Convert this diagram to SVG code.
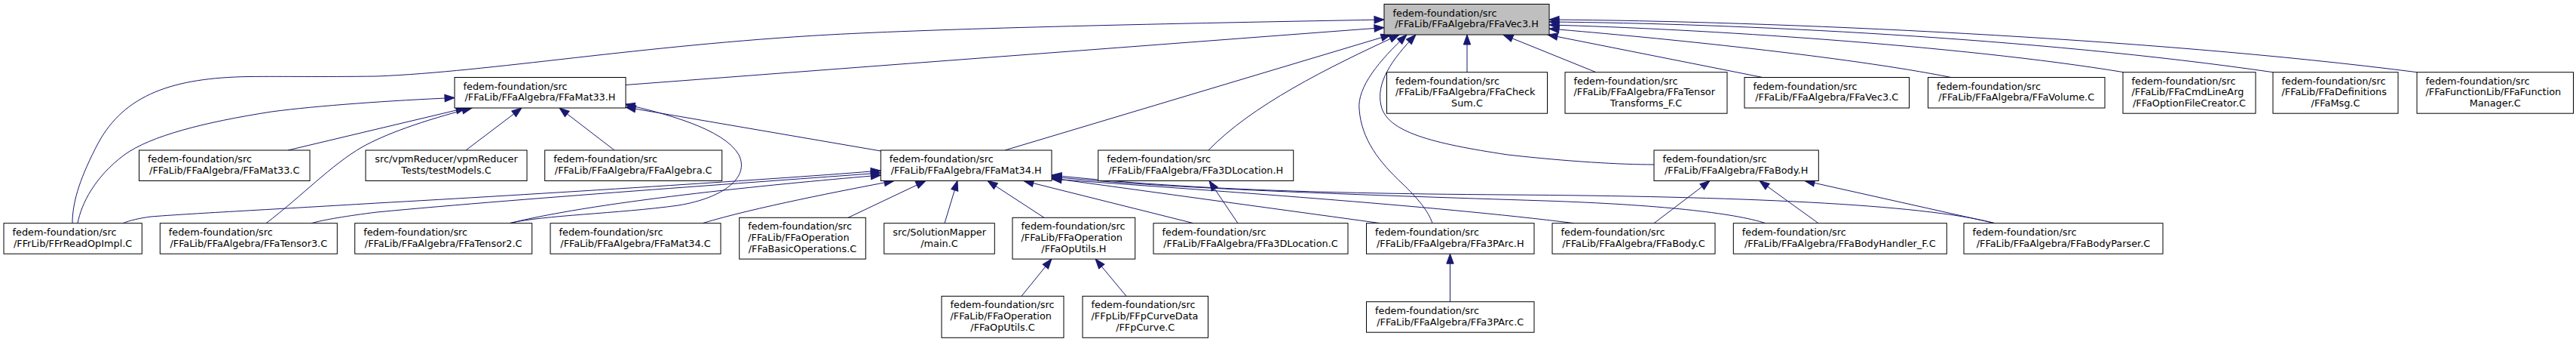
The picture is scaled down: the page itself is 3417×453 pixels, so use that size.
<svg xmlns="http://www.w3.org/2000/svg" width="3417" height="453" viewBox="0 0 3417 453">
<style>
.node rect{fill:#fff;stroke:#000;stroke-width:1}
.node text{font-family:"DejaVu Sans","Liberation Sans",sans-serif;font-size:12.85px;fill:#000}
.node text.m{text-anchor:middle}
#root rect{fill:#bfbfbf}
.edges path{fill:none;stroke:#191970;stroke-width:1;marker-start:url(#arr)}
</style>
<defs>
<marker id="arr" markerUnits="userSpaceOnUse" markerWidth="16" markerHeight="14" viewBox="-1 -7 16 14" refX="13" refY="0" orient="auto-start-reverse" overflow="visible">
<path d="M0,-4.7 L13,0 L0,4.7 Z" fill="#191970" stroke="#191970" stroke-width="1"/>
</marker>
</defs>
<rect x="0" y="0" width="3417" height="453" fill="#fff"/>
<g class="edges" id="edges">
<path d="M1836,36.5 L830,112.5"/>
<path d="M1836,26 C1500,32 1250,38 1100,46 C850,60 650,95 500,101 C420,102 380,101 330,101.5 C230,103 165,125 130,190 C108,232 96,265 96,295.7"/>
<path d="M1845,46 L1333,199"/>
<path d="M1856,46 C1760,90 1660,140 1603,199"/>
<path d="M1866,46 C1830,80 1800,115 1803,145 C1806,185 1830,215 1860,243 C1880,262 1895,280 1900,295.7"/>
<path d="M1878,46 C1845,80 1825,110 1832,140 C1840,175 1900,190 2000,205 C2080,214 2150,218 2194,218"/>
<path d="M1946,46 L1946,95.7"/>
<path d="M1994,46 L2117,95.7"/>
<path d="M2053,46 L2338,102.5"/>
<path d="M2055,38 C2200,50 2450,75 2588,102.5"/>
<path d="M2055,33 C2250,38 2600,60 2817,95.7"/>
<path d="M2055,29 C2300,31 2700,50 3015,95.7"/>
<path d="M2055,26 C2350,28 2850,50 3206,95.7"/>
<path d="M603,129.5 C520,133 420,140 360,148 C270,162 200,180 165,205 C125,235 108,270 103,295.7"/>
<path d="M618,143 L382,199"/>
<path d="M626,143 C560,160 510,178 480,195 C440,218 400,260 353,295.7"/>
<path d="M692,143 L618,199"/>
<path d="M742,143 L815,199"/>
<path d="M829,138 C880,150 960,170 980,205 C995,235 960,262 900,272 C820,283 720,285 676,295.7"/>
<path d="M830,142 L1168.3,200"/>
<path d="M1168.3,226 C1050,236 700,258 500,269 C350,278 250,283 200,287 C185,289 172,292 163,295.7"/>
<path d="M1168.3,229 C1050,238 700,262 500,281 C460,286 430,291 413,295.7"/>
<path d="M1168.3,232 C1050,242 800,265 676,295.7"/>
<path d="M1186,239.5 C1120,252 1000,275 932,295.7"/>
<path d="M1228,239.5 L1125,288.3"/>
<path d="M1270,239.5 L1253,295.7"/>
<path d="M1310,239.5 L1385,288.3"/>
<path d="M1358,239.5 L1583,295.7"/>
<path d="M1395,236 L1831,295.7"/>
<path d="M1395,237 C1600,252 1900,272 2088,295.7"/>
<path d="M1395,234 C1550,250 1800,258 2050,266 C2200,271 2300,282 2342,295.7"/>
<path d="M1395,232 C1550,248 1700,256 2000,258 C2300,260 2550,270 2646,295.7"/>
<path d="M1604,239.5 L1642,295.7"/>
<path d="M1395,343 L1355,392.3"/>
<path d="M1453,343 L1494,392.3"/>
<path d="M1923.5,336.2 L1923.5,399.7"/>
<path d="M2268,239.5 L2194,295.7"/>
<path d="M2334,239.5 L2412,295.7"/>
<path d="M2394,239.5 L2646,295.7"/>
</g>
<g class="node" id="root"><rect x="1836" y="5.5" width="219" height="40.5"/><text x="1847.5" y="21.5">fedem-foundation/src</text><text class="m" x="1945.5" y="36.3">/FFaLib/FFaAlgebra/FFaVec3.H</text></g>
<g class="node" id="n_mat33h"><rect x="603" y="102.5" width="227" height="40.5"/><text x="614.5" y="118.5">fedem-foundation/src</text><text class="m" x="716.5" y="133.3">/FFaLib/FFaAlgebra/FFaMat33.H</text></g>
<g class="node" id="n_checksum"><rect x="1839.5" y="95.7" width="213" height="54.5"/><text x="1851" y="111.5">fedem-foundation/src</text><text x="1851" y="126.3">/FFaLib/FFaAlgebra/FFaCheck</text><text class="m" x="1946" y="141.1">Sum.C</text></g>
<g class="node" id="n_tensortr"><rect x="2076" y="95.7" width="215" height="54.5"/><text x="2087.5" y="111.5">fedem-foundation/src</text><text x="2087.5" y="126.3">/FFaLib/FFaAlgebra/FFaTensor</text><text class="m" x="2183.5" y="141.1">Transforms_F.C</text></g>
<g class="node" id="n_vec3c"><rect x="2314" y="102.5" width="218.5" height="40.5"/><text x="2325.5" y="118.5">fedem-foundation/src</text><text class="m" x="2423.25" y="133.3">/FFaLib/FFaAlgebra/FFaVec3.C</text></g>
<g class="node" id="n_volume"><rect x="2557.5" y="102.5" width="234.5" height="40.5"/><text x="2569" y="118.5">fedem-foundation/src</text><text class="m" x="2674.75" y="133.3">/FFaLib/FFaAlgebra/FFaVolume.C</text></g>
<g class="node" id="n_optfile"><rect x="2816" y="95.7" width="176" height="54.5"/><text x="2827.5" y="111.5">fedem-foundation/src</text><text x="2827.5" y="126.3">/FFaLib/FFaCmdLineArg</text><text class="m" x="2904" y="141.1">/FFaOptionFileCreator.C</text></g>
<g class="node" id="n_msg"><rect x="3015" y="95.7" width="166" height="54.5"/><text x="3026.5" y="111.5">fedem-foundation/src</text><text x="3026.5" y="126.3">/FFaLib/FFaDefinitions</text><text class="m" x="3098" y="141.1">/FFaMsg.C</text></g>
<g class="node" id="n_funcmgr"><rect x="3206" y="95.7" width="207.5" height="54.5"/><text x="3217.5" y="111.5">fedem-foundation/src</text><text x="3217.5" y="126.3">/FFaFunctionLib/FFaFunction</text><text class="m" x="3309.75" y="141.1">Manager.C</text></g>
<g class="node" id="n_mat33c"><rect x="184.5" y="199" width="226.5" height="40.5"/><text x="196" y="215">fedem-foundation/src</text><text class="m" x="297.75" y="229.8">/FFaLib/FFaAlgebra/FFaMat33.C</text></g>
<g class="node" id="n_testmodels"><rect x="485" y="199" width="214" height="40.5"/><text class="m" x="592" y="215">src/vpmReducer/vpmReducer</text><text class="m" x="592" y="229.8">Tests/testModels.C</text></g>
<g class="node" id="n_algebra"><rect x="722.7" y="199" width="235" height="40.5"/><text x="734.2" y="215">fedem-foundation/src</text><text class="m" x="840.2" y="229.8">/FFaLib/FFaAlgebra/FFaAlgebra.C</text></g>
<g class="node" id="n_mat34h"><rect x="1168.3" y="199" width="226.7" height="40.5"/><text x="1179.8" y="215">fedem-foundation/src</text><text class="m" x="1281.65" y="229.8">/FFaLib/FFaAlgebra/FFaMat34.H</text></g>
<g class="node" id="n_3dloch"><rect x="1456.7" y="199" width="259" height="40.5"/><text x="1468.2" y="215">fedem-foundation/src</text><text class="m" x="1586.2" y="229.8">/FFaLib/FFaAlgebra/FFa3DLocation.H</text></g>
<g class="node" id="n_bodyh"><rect x="2194" y="199" width="218.3" height="40.5"/><text x="2205.5" y="215">fedem-foundation/src</text><text class="m" x="2303.15" y="229.8">/FFaLib/FFaAlgebra/FFaBody.H</text></g>
<g class="node" id="n_readop"><rect x="5" y="295.7" width="183.3" height="40.5"/><text x="16.5" y="311.7">fedem-foundation/src</text><text class="m" x="96.65" y="326.5">/FFrLib/FFrReadOpImpl.C</text></g>
<g class="node" id="n_tensor3"><rect x="212.3" y="295.7" width="235" height="40.5"/><text x="223.8" y="311.7">fedem-foundation/src</text><text class="m" x="329.8" y="326.5">/FFaLib/FFaAlgebra/FFaTensor3.C</text></g>
<g class="node" id="n_tensor2"><rect x="470.7" y="295.7" width="235" height="40.5"/><text x="482.2" y="311.7">fedem-foundation/src</text><text class="m" x="588.2" y="326.5">/FFaLib/FFaAlgebra/FFaTensor2.C</text></g>
<g class="node" id="n_mat34c"><rect x="730" y="295.7" width="226" height="40.5"/><text x="741.5" y="311.7">fedem-foundation/src</text><text class="m" x="843" y="326.5">/FFaLib/FFaAlgebra/FFaMat34.C</text></g>
<g class="node" id="n_basicops"><rect x="980.7" y="288.3" width="167.6" height="54.8"/><text x="992.2" y="304.1">fedem-foundation/src</text><text x="992.2" y="318.9">/FFaLib/FFaOperation</text><text class="m" x="1064.5" y="333.7">/FFaBasicOperations.C</text></g>
<g class="node" id="n_main"><rect x="1172.7" y="295.7" width="146.6" height="40.5"/><text x="1184.2" y="311.7">src/SolutionMapper</text><text class="m" x="1246" y="326.5">/main.C</text></g>
<g class="node" id="n_oputilsh"><rect x="1343" y="288.3" width="162.7" height="54.8"/><text x="1354.5" y="304.1">fedem-foundation/src</text><text x="1354.5" y="318.9">/FFaLib/FFaOperation</text><text class="m" x="1424.35" y="333.7">/FFaOpUtils.H</text></g>
<g class="node" id="n_3dlocc"><rect x="1530" y="295.7" width="258" height="40.5"/><text x="1541.5" y="311.7">fedem-foundation/src</text><text class="m" x="1659" y="326.5">/FFaLib/FFaAlgebra/FFa3DLocation.C</text></g>
<g class="node" id="n_3parch"><rect x="1812.5" y="295.7" width="222.5" height="40.5"/><text x="1824" y="311.7">fedem-foundation/src</text><text class="m" x="1923.75" y="326.5">/FFaLib/FFaAlgebra/FFa3PArc.H</text></g>
<g class="node" id="n_bodyc"><rect x="2059" y="295.7" width="216" height="40.5"/><text x="2070.5" y="311.7">fedem-foundation/src</text><text class="m" x="2167" y="326.5">/FFaLib/FFaAlgebra/FFaBody.C</text></g>
<g class="node" id="n_bodyhandler"><rect x="2299.3" y="295.7" width="283" height="40.5"/><text x="2310.8" y="311.7">fedem-foundation/src</text><text class="m" x="2440.8" y="326.5">/FFaLib/FFaAlgebra/FFaBodyHandler_F.C</text></g>
<g class="node" id="n_bodyparser"><rect x="2605" y="295.7" width="264" height="40.5"/><text x="2616.5" y="311.7">fedem-foundation/src</text><text class="m" x="2737" y="326.5">/FFaLib/FFaAlgebra/FFaBodyParser.C</text></g>
<g class="node" id="n_oputilsc"><rect x="1249" y="392.3" width="162" height="55"/><text x="1260.5" y="408.1">fedem-foundation/src</text><text x="1260.5" y="422.9">/FFaLib/FFaOperation</text><text class="m" x="1330" y="437.7">/FFaOpUtils.C</text></g>
<g class="node" id="n_ffpcurve"><rect x="1436" y="392.3" width="166.5" height="55"/><text x="1447.5" y="408.1">fedem-foundation/src</text><text x="1447.5" y="422.9">/FFpLib/FFpCurveData</text><text class="m" x="1519.25" y="437.7">/FFpCurve.C</text></g>
<g class="node" id="n_3parcc"><rect x="1812.5" y="399.7" width="222.5" height="40.5"/><text x="1824" y="415.7">fedem-foundation/src</text><text class="m" x="1923.75" y="430.5">/FFaLib/FFaAlgebra/FFa3PArc.C</text></g>
</svg>
